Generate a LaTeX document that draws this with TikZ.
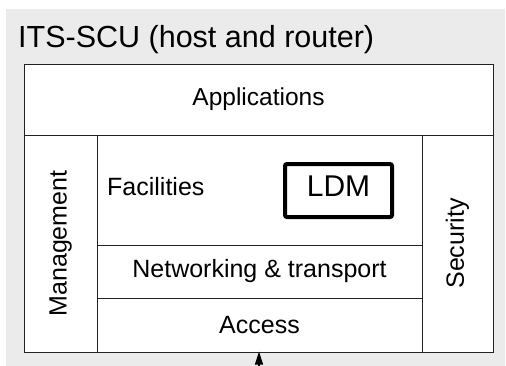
\documentclass[tikz,border=0pt]{standalone}
\usepackage{fontspec}
\setmainfont{Liberation Sans}
\usetikzlibrary{arrows.meta}
\definecolor{bggray}{HTML}{EBEBEB}
\definecolor{linec}{HTML}{222222}
\tikzset{
  layer/.style={draw=linec, line width=1pt, fill=white, inner sep=0pt, font=\fontsize{25}{28}\selectfont},
  ldmbox/.style={draw=black, line width=4pt, rounded corners=2pt, fill=white, inner sep=0pt, text depth=8pt, font=\fontsize{30}{33}\selectfont},
  lbl/.style={inner sep=0pt, font=\fontsize{25}{28}\selectfont},
}
\begin{document}
\begin{tikzpicture}[x=1pt,y=-1pt]
\useasboundingbox (0,0) rectangle (506,365);
\clip (0,0) rectangle (506,365);
\fill[bggray] (6,9) rectangle (505,370);
\node[anchor=base west, inner sep=0pt, font=\fontsize{30.5}{34}\selectfont] (title) at (18,47) {ITS-SCU (host and router)};
\node[layer, font=\fontsize{24.5}{28}\selectfont, minimum width=469pt, minimum height=71pt] (app) at (258.5,99.5) {Applications};
\node[layer, minimum width=73pt, minimum height=217pt] (mgmt) at (60.5,243.5) {};
\node[lbl, rotate=90] (mgmtt) at (mgmt.center) {Management};
\node[layer, minimum width=71pt, minimum height=217pt] (sec) at (457.5,243.5) {};
\node[lbl, rotate=90] (sect) at (sec.center) {Security};
\node[layer, minimum width=325pt, minimum height=110pt] (fac) at (259.5,190) {};
\node[lbl, anchor=west] (fact) at (107,187) {Facilities};
\node[layer, minimum width=325pt, minimum height=53pt] (net) at (259.5,271.5) {Networking \& transport};
\node[layer, minimum width=325pt, minimum height=54pt] (acc) at (259.5,325) {Access};
\node[ldmbox, minimum width=107pt, minimum height=53pt] (ldm) at (338.5,190.5) {LDM};
\coordinate (feed) at (259,380);
\draw[line width=1.2pt, -{Triangle[length=13pt,width=8pt]}] (feed) -- ([yshift=1pt]feed |- acc.south);
\end{tikzpicture}
\end{document}
